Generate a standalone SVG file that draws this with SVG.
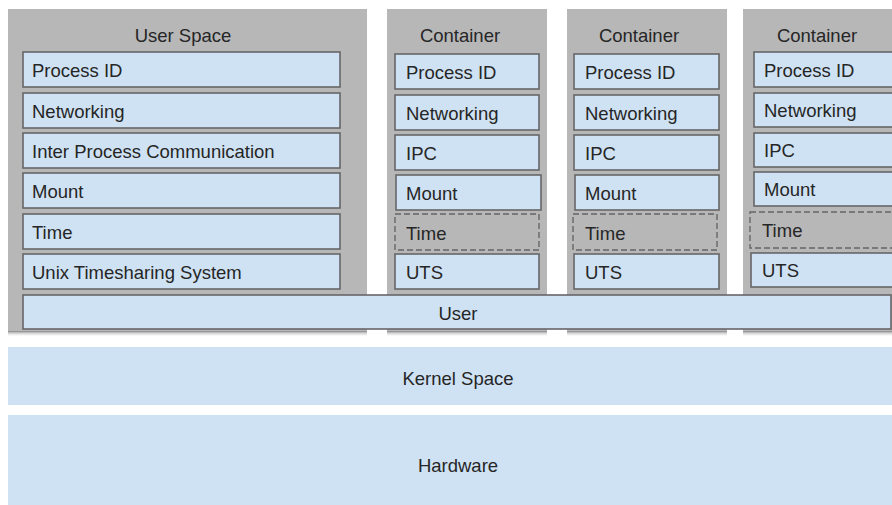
<svg xmlns="http://www.w3.org/2000/svg" width="892" height="505" viewBox="0 0 892 505">
  <defs>
    <linearGradient id="shadow" x1="0" y1="0" x2="0" y2="1">
      <stop offset="0" stop-color="#8a8a8a"/>
      <stop offset="1" stop-color="#ffffff" stop-opacity="0"/>
    </linearGradient>
  </defs>
  <style>
    .space { fill: #b7b7b7; }
    .ns { fill: #cfe2f3; stroke: #666666; stroke-width: 1.6; }
    .dash { fill: none; stroke: #666666; stroke-width: 1.4; stroke-dasharray: 6 3; }
    .band { fill: #cfe2f3; }
    .sh { fill: url(#shadow); }
    text { font-family: "Liberation Sans", Arial, sans-serif; font-size: 18.5px; fill: #262626; }
    .c { text-anchor: middle; }
  </style>

  <g id="bands">
    <g id="kernel-space">
      <rect class="band" x="8" y="347" width="884" height="58"/>
      <text class="c" x="458" y="385">Kernel Space</text>
    </g>
    <g id="hardware">
      <rect class="band" x="8" y="415" width="884" height="90"/>
      <text class="c" x="458" y="472">Hardware</text>
    </g>
  </g>

  <g id="user-space">
    <rect class="space" x="8" y="9" width="359" height="323"/>
    <rect class="sh" x="8" y="331" width="359" height="6"/>
    <text class="c" x="183" y="42">User Space</text>
    <g id="us-pid"><rect class="ns" x="23" y="52" width="317" height="35"/><text x="32" y="77">Process ID</text></g>
    <g id="us-net"><rect class="ns" x="23" y="93" width="317" height="35"/><text x="32" y="118">Networking</text></g>
    <g id="us-ipc"><rect class="ns" x="23" y="133" width="317" height="35"/><text x="32" y="158">Inter Process Communication</text></g>
    <g id="us-mount"><rect class="ns" x="23" y="173" width="317" height="35"/><text x="32" y="198">Mount</text></g>
    <g id="us-time"><rect class="ns" x="23" y="214" width="317" height="35"/><text x="32" y="239">Time</text></g>
    <g id="us-uts"><rect class="ns" x="23" y="254" width="317" height="35"/><text x="32" y="279">Unix Timesharing System</text></g>
  </g>

  <g id="container-1">
    <rect class="space" x="387" y="9" width="160" height="323"/>
    <rect class="sh" x="387" y="331" width="160" height="6"/>
    <text class="c" x="460" y="42">Container</text>
    <g id="c1-pid"><rect class="ns" x="395" y="54" width="144" height="35"/><text x="406" y="79">Process ID</text></g>
    <g id="c1-net"><rect class="ns" x="395" y="95" width="144" height="35"/><text x="406" y="120">Networking</text></g>
    <g id="c1-ipc"><rect class="ns" x="395" y="135" width="144" height="35"/><text x="406" y="160">IPC</text></g>
    <g id="c1-mount"><rect class="ns" x="396" y="175" width="145" height="35"/><text x="406" y="200">Mount</text></g>
    <g id="c1-time"><rect class="dash" x="395" y="214" width="144" height="36"/><text x="406" y="240">Time</text></g>
    <g id="c1-uts"><rect class="ns" x="395" y="254" width="144" height="35"/><text x="406" y="279">UTS</text></g>
  </g>

  <g id="container-2">
    <rect class="space" x="567" y="9" width="160" height="323"/>
    <rect class="sh" x="567" y="331" width="160" height="6"/>
    <text class="c" x="639" y="42">Container</text>
    <g id="c2-pid"><rect class="ns" x="574" y="54" width="145" height="35"/><text x="585" y="79">Process ID</text></g>
    <g id="c2-net"><rect class="ns" x="574" y="95" width="145" height="35"/><text x="585" y="120">Networking</text></g>
    <g id="c2-ipc"><rect class="ns" x="574" y="135" width="145" height="35"/><text x="585" y="160">IPC</text></g>
    <g id="c2-mount"><rect class="ns" x="575" y="175" width="144" height="35"/><text x="585" y="200">Mount</text></g>
    <g id="c2-time"><rect class="dash" x="573" y="214" width="144" height="36"/><text x="585" y="240">Time</text></g>
    <g id="c2-uts"><rect class="ns" x="574" y="254" width="145" height="35"/><text x="585" y="279">UTS</text></g>
  </g>

  <g id="container-3">
    <rect class="space" x="743" y="9" width="160" height="323"/>
    <rect class="sh" x="743" y="331" width="160" height="6"/>
    <text class="c" x="817" y="42">Container</text>
    <g id="c3-pid"><rect class="ns" x="754" y="52" width="150" height="35"/><text x="764" y="77">Process ID</text></g>
    <g id="c3-net"><rect class="ns" x="754" y="93" width="150" height="34"/><text x="764" y="117">Networking</text></g>
    <g id="c3-ipc"><rect class="ns" x="754" y="133" width="150" height="34"/><text x="764" y="157">IPC</text></g>
    <g id="c3-mount"><rect class="ns" x="754" y="172" width="150" height="34"/><text x="764" y="196">Mount</text></g>
    <g id="c3-time"><rect class="dash" x="750" y="212" width="154" height="36"/><text x="762" y="237">Time</text></g>
    <g id="c3-uts"><rect class="ns" x="751" y="253" width="153" height="34"/><text x="762" y="277">UTS</text></g>
  </g>

  <g id="user">
    <rect class="ns" x="23" y="295" width="868" height="34"/>
    <text class="c" x="458" y="320">User</text>
  </g>

  <g id="connectors"/>
</svg>
